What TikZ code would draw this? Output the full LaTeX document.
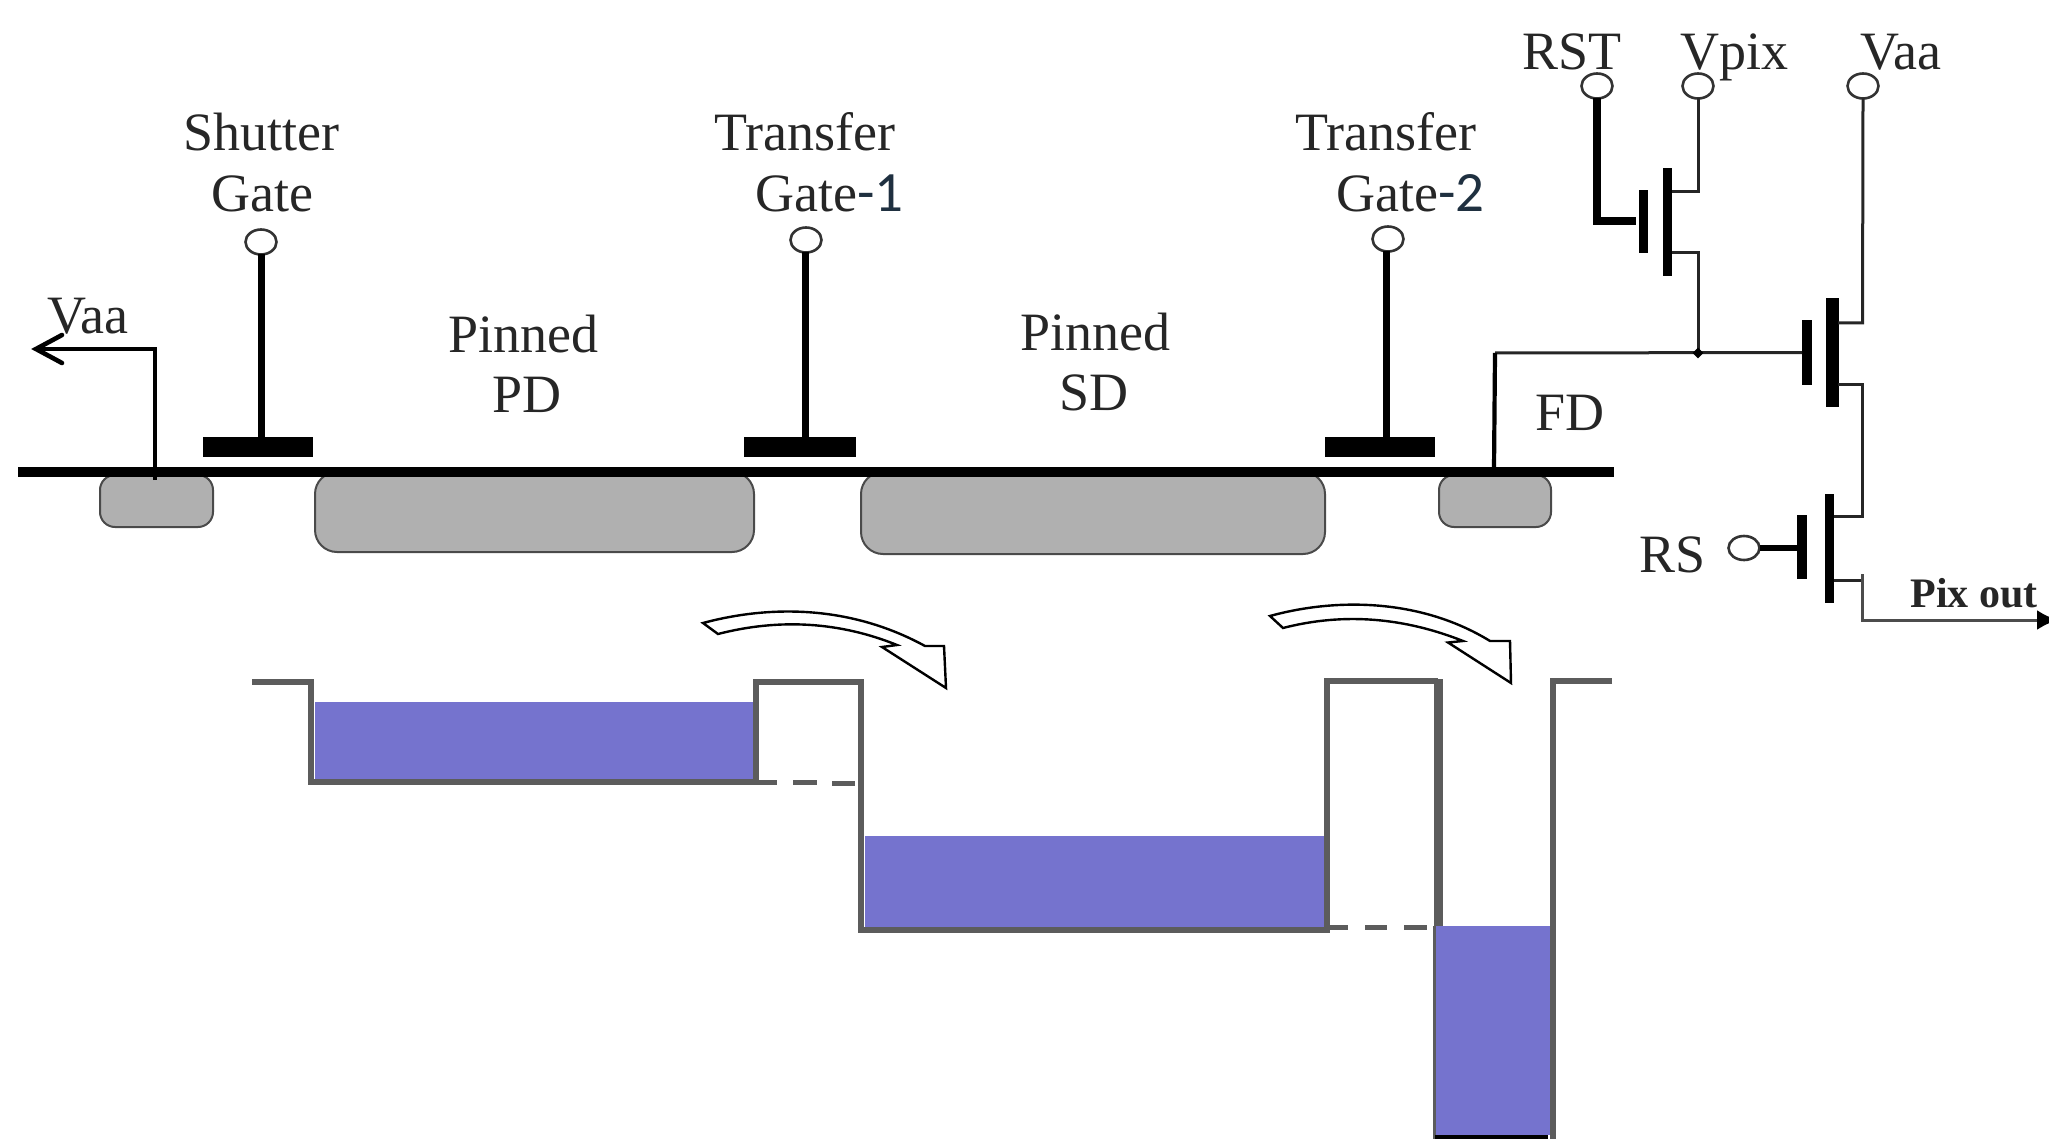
\documentclass[tikz,border=0pt]{standalone}
\usepackage{fontspec}
\setmainfont{Liberation Serif}
\newfontfamily\carlitofont{Carlito}
\usetikzlibrary{arrows.meta,shapes.geometric}
\definecolor{wellgrey}{HTML}{B0B0B0}
\definecolor{wellline}{HTML}{4A4A4A}
\definecolor{potline}{HTML}{5C5C5C}
\definecolor{charge}{HTML}{7573CE}
\definecolor{numink}{HTML}{1F3040}
\tikzset{
  lab/.style={inner sep=0pt,anchor=base,font=\fontsize{54}{54}\selectfont,text=black!85,yshift=-2.5pt},
  labl/.style={lab,anchor=base west},
  term/.style={draw=black!80,fill=white,line width=2.6pt,ellipse,inner sep=0pt,outer sep=0pt,minimum width=31pt,minimum height=25pt},
  bar/.style={fill=black,draw=none,rectangle,inner sep=0pt,outer sep=0pt},
  well/.style={draw=wellline,fill=wellgrey,line width=2pt,rounded corners=#1},
  wire/.style={draw=black!85,line width=3pt,line cap=butt},
  stem/.style={draw=black,line width=7pt},
  pot/.style={draw=potline,line width=5.5pt,line join=miter},
  potdash/.style={draw=potline,line width=5pt},
  flow/.style={draw=black,fill=white,line width=2.4pt,line join=miter},
}
\begin{document}
\begin{tikzpicture}[x=1pt,y=-1pt]
\useasboundingbox (0,0) rectangle (2049,1139);
% wells
\path[well=15pt] (100,475) rectangle (213,527);
\path[well=22pt] (315,472) rectangle (754,552);
\path[well=22pt] (861,472) rectangle (1325,554);
\path[well=15pt] (1439,475) rectangle (1551,527);
% surface
\node[bar,minimum width=1596pt,minimum height=9.5pt] (surface) at (816,472) {};
% gates
\node[bar,minimum width=110pt,minimum height=20pt] (sgbar) at (258,447) {};
\node[bar,minimum width=112pt,minimum height=20pt] (tg1bar) at (800,447) {};
\node[bar,minimum width=110pt,minimum height=20pt] (tg2bar) at (1380,447) {};
\coordinate (sgb) at (261,437);
\coordinate (tg1b) at (805,437);
\coordinate (tg2b) at (1386,437);
\node[term] (sgt) at (261,242) {};
\node[term] (tg1t) at (806,240) {};
\node[term] (tg2t) at (1388,239) {};
\draw[stem] (261,254) -- (sgb);
\draw[stem] (805,252) -- (tg1b);
\draw[stem] (1386,251) -- (tg2b);
% Vaa drain, left
\coordinate (vdb) at (155,480);
\coordinate (vdc) at (155,349);
\coordinate (vdt) at (36,349);
\draw[draw=black,line width=4.6pt] (vdb) -- (vdc) -- (vdt);
\draw[draw=black,line width=4.6pt,line cap=round] (62,335) -- (vdt) -- (62,363);
% terminals
\node[term] (rst) at (1597,86) {};
\node[term] (vpix) at (1698,86) {};
\node[term] (vaa) at (1863,86) {};
\node[term,minimum height=24pt] (rs) at (1744,548) {};
% transistor bars
\node[bar,minimum width=9.5pt,minimum height=63pt] (g1) at (1643.5,221.5) {};
\node[bar,minimum width=9.5pt,minimum height=108pt] (c1) at (1667.5,222) {};
\node[bar,minimum width=10pt,minimum height=65pt] (g2) at (1807,352.5) {};
\node[bar,minimum width=12.5pt,minimum height=109pt] (c2) at (1832.5,352.5) {};
\node[bar,minimum width=9.5pt,minimum height=64pt] (g3) at (1802,547) {};
\node[bar,minimum width=9.5pt,minimum height=109pt] (c3) at (1829.5,548.5) {};
% reset transistor wiring
\coordinate (rstk) at (1597,221);
\coordinate (g1l) at (1636,221);
\draw[draw=black,line width=8pt,line join=miter] (rst.south) -- (rstk) -- (g1l);
\coordinate (c1t) at (1672,191.5);
\coordinate (c1tk) at (1698,191.5);
\coordinate (c1b) at (1672,252.5);
\coordinate (c1bk) at (1698,252.5);
\coordinate (fdj) at (1698,353);
\draw[wire] (vpix.south) -- (c1tk) -- (c1t);
\draw[wire] (c1b) -- (c1bk) -- (fdj);
% floating diffusion
\coordinate (fdk) at (1495,353);
\coordinate (fdb) at (1494,468);
\draw[wire] (fdk) -- (g2.west);
\draw[draw=black,line width=4.2pt,line join=miter] (fdb) -- (fdk);
\node[diamond,fill=black,inner sep=0pt,minimum width=11pt,minimum height=11pt] (fdot) at (fdj) {};
% source follower
\coordinate (c2t) at (1838,323);
\coordinate (c2tk) at (1862.5,323);
\coordinate (c2b) at (1838,384);
\coordinate (c2bk) at (1862.5,384);
\coordinate (c3t) at (1834,516);
\coordinate (c3tk) at (1862.5,516);
\draw[wire] (vaa.south) -- (c2tk) -- (c2t);
\draw[wire] (c2b) -- (c2bk) -- (c3tk) -- (c3t);
% row select
\draw[draw=black,line width=6pt] (rs.east) -- (g3.west |- rs.east);
\coordinate (c3b) at (1834,580);
\coordinate (c3bk) at (1862.5,580);
\coordinate (outk) at (1862.5,620);
\coordinate (outt) at (2058,620);
\draw[wire] (c3b) -- (c3bk);
\draw[wire,draw=black!70,-{Latex[length=21pt,width=20pt,color=black]}] (1862.5,574) -- (outk) -- (outt);
% potential diagram: charge
\fill[charge] (315,702) rectangle (753,779);
\fill[charge] (865,836) rectangle (1324,927);
\fill[charge] (1435,926) rectangle (1551,1135);
% potential diagram: lines
\draw[pot] (252,682) -- (311,682) -- (311,782) -- (756,782);
\draw[pot] (756,782) -- (756,682) -- (861,682) -- (861,930) -- (1327,930) -- (1327,681) -- (1438,681);
\draw[draw=potline,line width=9pt] (1438.5,679) -- (1438.5,926);
\draw[draw=potline,line width=3pt] (1434.5,926) -- (1434.5,1139);
\draw[pot] (1612,681) -- (1553,681) -- (1553,1139);
\fill[black] (1435,1135) rectangle (1548,1139);
% dashes
\draw[potdash] (756,782) -- (777,782);
\draw[potdash] (793,782.5) -- (817,782.5);
\draw[potdash] (832,783) -- (855,783);
\draw[potdash] (1328,927) -- (1348,927);
\draw[potdash] (1365,927) -- (1387,927);
\draw[potdash] (1404,927) -- (1427,927);
% transfer arrows
\path[flow] (703,623) .. controls (770,605) and (850,605) .. (925,646) -- (944,646) -- (946,688) -- (882,647) -- (897,645)
  .. controls (840,622) and (780,618) .. (718,634) -- cycle;
\path[flow] (1270,616) .. controls (1335,598) and (1420,598) .. (1490,641) -- (1510,641) -- (1511,683) -- (1448,642.5) -- (1463,641)
  .. controls (1405,618) and (1345,612) .. (1283,628) -- cycle;
% labels
\node[lab] (tshutter) at (261,148) {Shutter};
\node[lab] (tgate0) at (262,209) {Gate};
\node[lab] (ttrans1) at (805,148) {Transfer};
\node[labl] (tgate1) at (755,209) {Gate{\carlitofont\fontsize{57}{57}\selectfont\color{numink}-1}};
\node[lab] (ttrans2) at (1386,148) {Transfer};
\node[labl] (tgate2) at (1336,209) {Gate{\carlitofont\fontsize{57}{57}\selectfont\color{numink}-2}};
\node[lab] (tpin1) at (523,350) {Pinned};
\node[lab] (tpd) at (527,410) {PD};
\node[lab] (tpin2) at (1095,348) {Pinned};
\node[lab] (tsd) at (1094,408) {SD};
\node[lab] (tfd) at (1570,428) {FD};
\node[lab] (tvaal) at (88,331) {Vaa};
\node[lab] (trst) at (1572,67) {RST};
\node[lab] (tvpix) at (1734,67) {Vpix};
\node[lab] (tvaar) at (1901,67) {Vaa};
\node[lab] (trs) at (1672,570) {RS};
\node[lab,font=\fontsize{42}{42}\selectfont\bfseries] (tpix) at (1974,605) {Pix out};
\end{tikzpicture}
\end{document}
